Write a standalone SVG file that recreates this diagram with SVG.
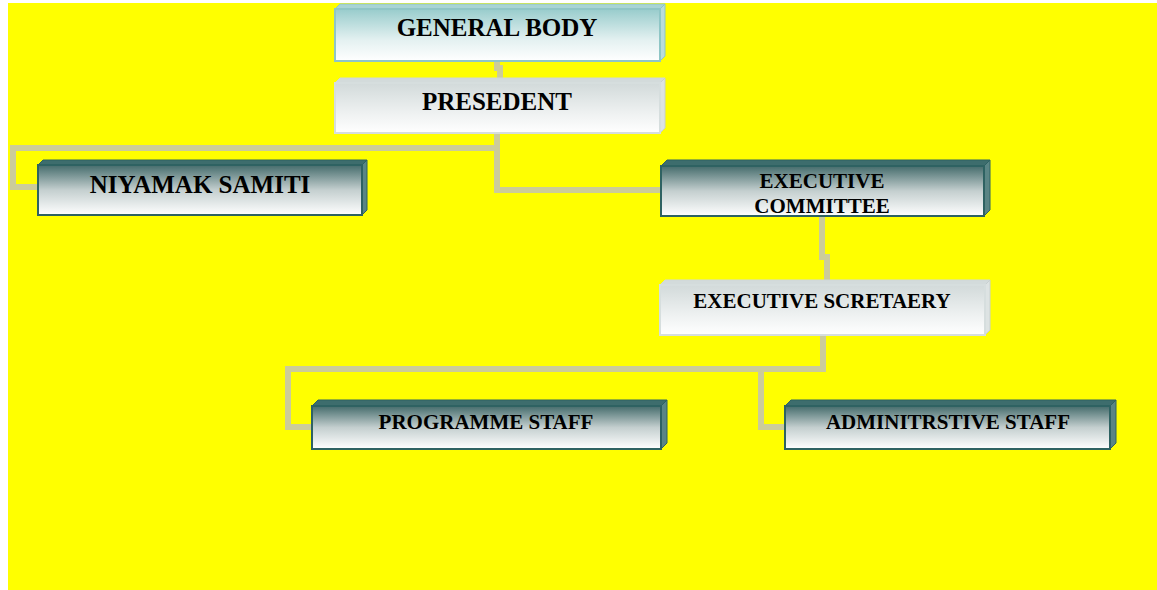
<svg xmlns="http://www.w3.org/2000/svg" width="1157" height="590" viewBox="0 0 1157 590">
<style>
.lbl{font-family:"Liberation Serif","Times New Roman",serif;font-weight:bold;fill:#000;text-anchor:middle}
.big{font-size:25px}
.med{font-size:21px}
.conn{fill:none;stroke:#cccc99;stroke-width:6;stroke-linejoin:miter;stroke-linecap:butt}
.dFront{fill:url(#gDark);stroke:#2e6262;stroke-width:2}
.dTop{fill:#3d6d6d;stroke:#2e6262;stroke-width:1}
.dSide{fill:#5a8585;stroke:#2e6262;stroke-width:1}
.tFront{fill:url(#gTeal);stroke:#8fc6c6;stroke-width:2}
.tTop{fill:#a8d4d4;stroke:#8fc6c6;stroke-width:1}
.tSide{fill:#b9dcdc;stroke:#8fc6c6;stroke-width:1}
.gFront{fill:url(#gGray);stroke:#d6dede;stroke-width:2}
.gTop{fill:#d3dbdb;stroke:#d0d8d8;stroke-width:1}
.gSide{fill:#dde3e3;stroke:#c8d0d0;stroke-width:1}
</style>
<defs>
<linearGradient id="gDark" x1="0" y1="0" x2="0" y2="1">
<stop offset="0" stop-color="#456c6c"/>
<stop offset="0.5" stop-color="#c4cfcf"/>
<stop offset="1" stop-color="#ffffff"/>
</linearGradient>
<linearGradient id="gTeal" x1="0" y1="0" x2="0" y2="1">
<stop offset="0" stop-color="#98cccc"/>
<stop offset="0.6" stop-color="#e4f1f1"/>
<stop offset="1" stop-color="#ffffff"/>
</linearGradient>
<linearGradient id="gGray" x1="0" y1="0" x2="0" y2="1">
<stop offset="0" stop-color="#d2dada"/>
<stop offset="0.6" stop-color="#eef1f1"/>
<stop offset="1" stop-color="#ffffff"/>
</linearGradient>
</defs>
<rect x="0" y="0" width="1157" height="590" fill="#ffffff"/>
<rect x="8" y="3" width="1149" height="587" fill="#ffff00"/>
<g id="connectors">
<path class="conn" d="M497,61 V68 H500 V80"/>
<path class="conn" d="M497,133 V148 H13 V187 H38"/>
<path class="conn" d="M497,133 V190 H661"/>
<path class="conn" d="M822,216 V257 H827 V285"/>
<path class="conn" d="M823,335 V369 H288 V427 H312"/>
<path class="conn" d="M761,369 V427 H785"/>
</g>
<g id="general-body">
<polygon class="tTop" points="335,9 340,4 665,4 660,9"/>
<polygon class="tSide" points="660,9 665,4 665,56 660,61"/>
<rect class="tFront" x="335" y="9" width="325" height="52"/>
<text class="lbl big" x="497" y="36">GENERAL BODY</text>
</g>
<g id="presedent">
<polygon class="gTop" points="335,83 340,78 665,78 660,83"/>
<polygon class="gSide" points="660,83 665,78 665,128 660,133"/>
<rect class="gFront" x="335" y="83" width="325" height="50"/>
<text class="lbl big" x="497" y="110">PRESEDENT</text>
</g>
<g id="niyamak-samiti">
<polygon class="dTop" points="38,165 43,160 367,160 362,165"/>
<polygon class="dSide" points="362,165 367,160 367,210 362,215"/>
<rect class="dFront" x="38" y="165" width="324" height="50"/>
<text class="lbl big" x="200" y="193">NIYAMAK SAMITI</text>
</g>
<g id="executive-committee">
<polygon class="dTop" points="661,166 667,160 990,160 984,166"/>
<polygon class="dSide" points="984,166 990,160 990,210 984,216"/>
<rect class="dFront" x="661" y="166" width="323" height="50"/>
<text class="lbl med" x="822" y="188">EXECUTIVE</text>
<text class="lbl med" x="822" y="213">COMMITTEE</text>
</g>
<g id="executive-scretaery">
<polygon class="gTop" points="660,285 665,280 990,280 985,285"/>
<polygon class="gSide" points="985,285 990,280 990,330 985,335"/>
<rect class="gFront" x="660" y="285" width="325" height="50"/>
<text class="lbl med" x="822" y="308">EXECUTIVE SCRETAERY</text>
</g>
<g id="programme-staff">
<polygon class="dTop" points="312,406 318,400 667,400 661,406"/>
<polygon class="dSide" points="661,406 667,400 667,443 661,449"/>
<rect class="dFront" x="312" y="406" width="349" height="43"/>
<text class="lbl med" x="486" y="429">PROGRAMME STAFF</text>
</g>
<g id="adminitrstive-staff">
<polygon class="dTop" points="785,406 791,400 1116,400 1110,406"/>
<polygon class="dSide" points="1110,406 1116,400 1116,443 1110,449"/>
<rect class="dFront" x="785" y="406" width="325" height="43"/>
<text class="lbl med" x="948" y="429">ADMINITRSTIVE STAFF</text>
</g>
</svg>
